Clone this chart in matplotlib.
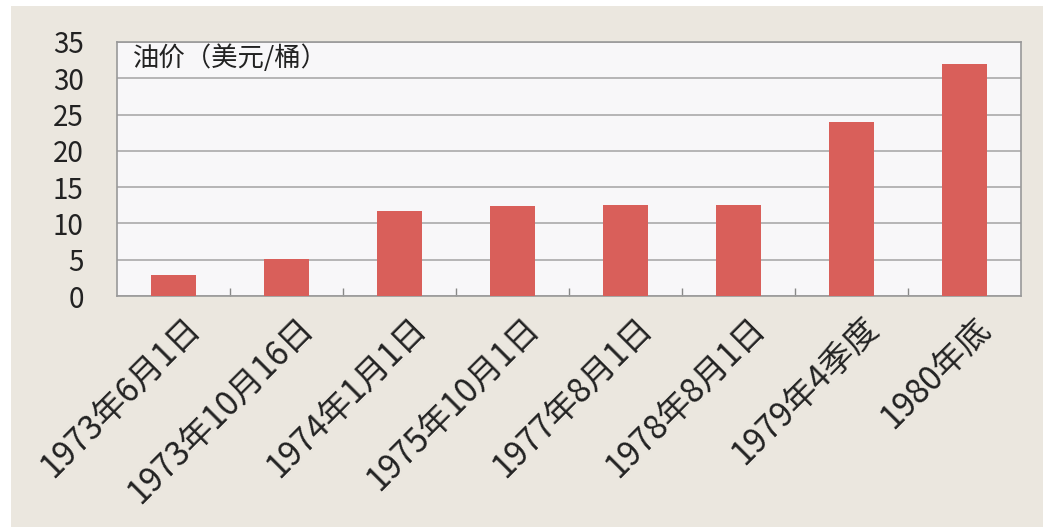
import matplotlib
matplotlib.use("Agg")
import matplotlib.pyplot as plt
from matplotlib.patches import Rectangle
import numpy as np

plt.rcParams["font.family"] = ["Noto Sans CJK SC", "DejaVu Sans"]

categories = ["1973年6月1日", "1973年10月16日", "1974年1月1日", "1975年10月1日",
              "1977年8月1日", "1978年8月1日", "1979年4季度", "1980年底"]
prices = [2.9, 5.1, 11.65, 12.35, 12.6, 12.6, 24.0, 32.0]
y_ticks = [0, 5, 10, 15, 20, 25, 30, 35]
unit_label = "油价（美元/桶）"

bg = "#ebe7df"
bar_color = "#d95f5a"
grid_color = "#aaaaaa"

fig = plt.figure(figsize=(10.44, 5.27), dpi=100, facecolor="white")
# beige panel behind the chart (white strip on the left and top)
fig.patches.append(Rectangle((11 / 1044, 0), 1032 / 1044, 521 / 527,
                             transform=fig.transFigure, facecolor=bg,
                             edgecolor="none", zorder=-10))

ax = fig.add_axes([117 / 1044, 1 - 296 / 527, 904 / 1044, 254 / 527])
ax.set_zorder(5)
ax.set_facecolor("#f8f7f9")

x = np.arange(len(categories))
ax.bar(x, prices, width=0.4, color=bar_color, zorder=3)

ax.set_xlim(-0.5, len(categories) - 0.5)
ax.set_ylim(0, 35)
ax.set_yticks(y_ticks)
ax.set_yticklabels([str(v) for v in y_ticks], fontsize=20, color="#222222")
ax.yaxis.grid(True, color=grid_color, linewidth=1.2, zorder=1)
ax.tick_params(axis="y", length=0, pad=24)

# category boundary ticks, pointing inward
ax.set_xticks(np.arange(0.5, len(categories) - 0.5, 1.0))
ax.set_xticklabels([])
ax.tick_params(axis="x", direction="in", length=6, color="#888888", width=1)
for i, name in enumerate(categories):
    ax.text(i + 0.3, -2.1, name, rotation=45, ha="right", va="top",
            fontsize=24, color="#222222")

for side in ["left", "right", "top", "bottom"]:
    ax.spines[side].set_color("#999999")
    ax.spines[side].set_linewidth(1.2)

ax.text(0.018, 0.935, unit_label, transform=ax.transAxes, ha="left", va="center",
        fontsize=19, color="#222222")

fig.savefig("out.png", dpi=100, facecolor="white")
